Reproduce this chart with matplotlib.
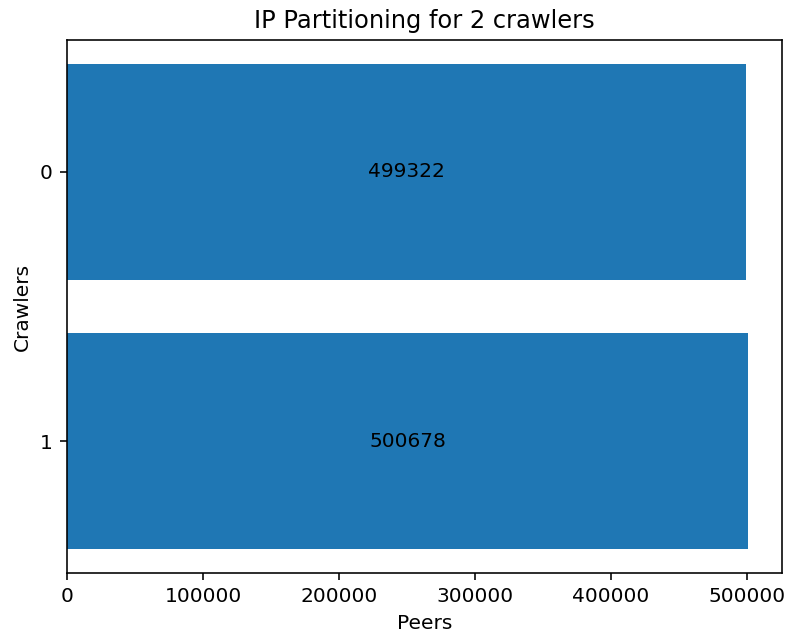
import matplotlib
matplotlib.use("Agg")
import matplotlib.pyplot as plt

crawlers = ["0", "1"]
peers = [499322, 500678]

dpi = 145
fig, ax = plt.subplots(figsize=(786 / dpi, 636 / dpi), dpi=dpi)
bars = ax.barh(crawlers, peers, color="#1f77b4")
ax.bar_label(bars, labels=[str(p) for p in peers], label_type="center")
ax.invert_yaxis()
ax.set_xlabel("Peers")
ax.set_ylabel("Crawlers")
ax.set_title("IP Partitioning for 2 crawlers")
plt.subplots_adjust(left=67 / 786, right=782 / 786, top=1 - 40 / 636, bottom=1 - 573 / 636)
fig.savefig("out.png", dpi=dpi)
